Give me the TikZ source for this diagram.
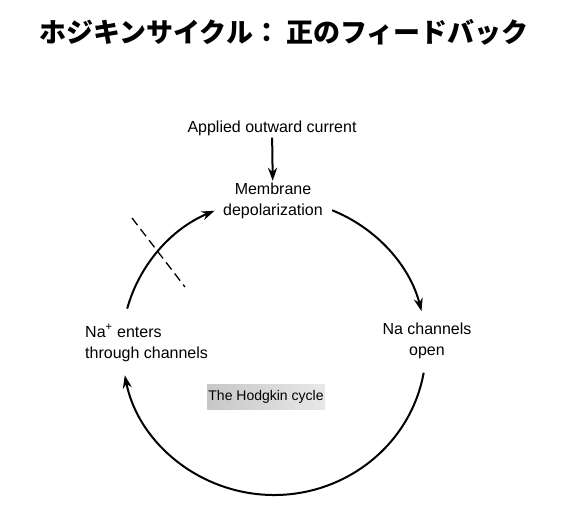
\documentclass[tikz,border=0pt]{standalone}
\usepackage{fontspec}
\setmainfont{Liberation Sans}
\newfontfamily\jpfont{Noto Sans CJK JP}
\usetikzlibrary{arrows.meta,positioning,calc}

\begin{document}
\begin{tikzpicture}[
  x=1pt, y=1pt,
  lbl/.style={font=\fontsize{16}{21}\selectfont, align=center, inner sep=2pt},
  cyc/.style={line width=2pt, -{Stealth[length=13pt,width=9pt]}},
  cut/.style={line width=1.3pt, dash pattern=on 9pt off 5pt},
  tag/.style={
    font=\fontsize{14}{16}\selectfont, left color=black!22, right color=black!9,
    minimum width=118pt, minimum height=25pt, inner sep=0pt
  }
]
\useasboundingbox (0,0) rectangle (566,-526);

% Title
\node[font=\jpfont\bfseries\fontsize{27}{30}\selectfont] (title) at (284,-32)
  {ホジキンサイクル： 正のフィードバック};

% Labels round the cycle
\node[lbl] (applied) at (272,-128) {Applied outward current};
\node[lbl] (depol) at (273,-201) {Membrane\\depolarization};
\node[lbl] (open) at (427,-341) {Na channels\\open};
\node[lbl, align=left, anchor=west] (enters) at (83,-343)
  {Na\textsuperscript{+} enters\\through channels};
\node[tag] (hodgkin) at (266,-397) {The Hodgkin cycle};

% Points on the cycle
\coordinate (c) at (274,-347);
\path (c) ++(67.5:152 and 148) coordinate (depolout);
\path (c) ++(-10:152 and 148) coordinate (openout);
\path (c) ++(165:152 and 148) coordinate (entersout);
\coordinate (cuta) at (132,-218);
\coordinate (cutb) at (185,-287);

% Stimulus
\draw[cyc] (applied) -- (depol);

% Cycle arcs
\draw[cyc] (depolout) arc[start angle=67.5, end angle=14, x radius=152, y radius=148];
\draw[cyc] (openout) arc[start angle=-10, end angle=-169, x radius=152, y radius=148];
\draw[cyc] (entersout) arc[start angle=165, end angle=113, x radius=152, y radius=148];

% Break in the loop
\draw[cut] (cuta) -- (cutb);

\end{tikzpicture}
\end{document}
